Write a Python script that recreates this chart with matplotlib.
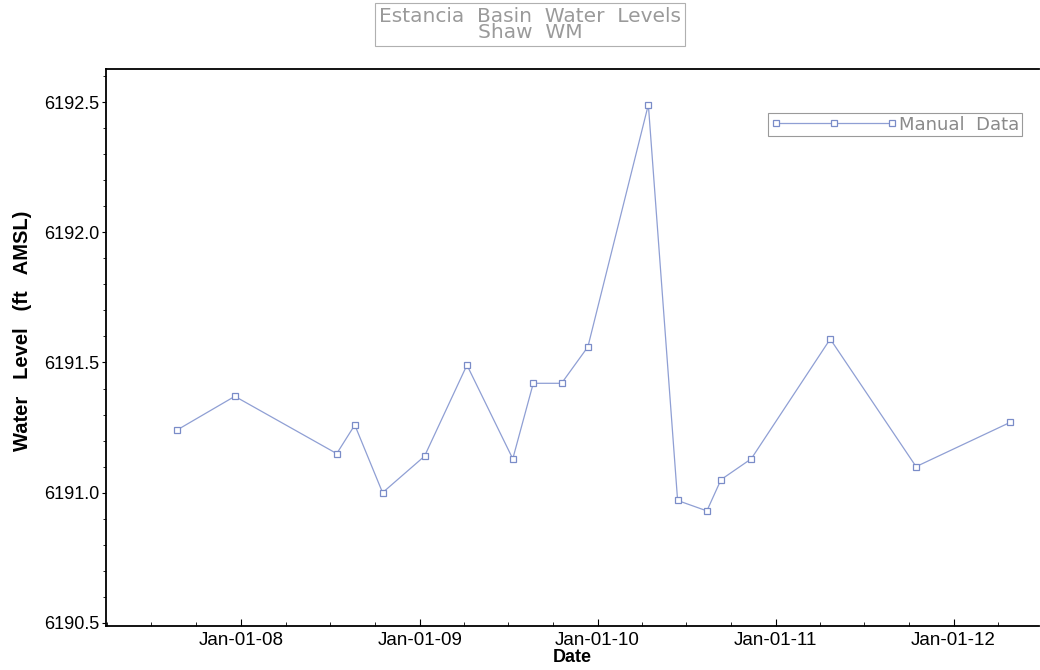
import matplotlib
matplotlib.use("Agg")
import matplotlib.pyplot as plt
import matplotlib.dates as mdates
from matplotlib.ticker import MultipleLocator, FormatStrFormatter
import pandas as pd

plt.rcParams['font.family'] = ['Liberation Sans', 'DejaVu Sans']

# manual water level readings, Shaw WM
dates = ["2007-08-22", "2007-12-19", "2008-07-15", "2008-08-21", "2008-10-17",
         "2009-01-11", "2009-04-08", "2009-07-11", "2009-08-22", "2009-10-19",
         "2009-12-12", "2010-04-15", "2010-06-14", "2010-08-13", "2010-09-11",
         "2010-11-12", "2011-04-23", "2011-10-16", "2012-04-26"]
levels = [6191.24, 6191.37, 6191.15, 6191.26, 6191.00,
          6191.14, 6191.49, 6191.13, 6191.42, 6191.42,
          6191.56, 6192.49, 6190.97, 6190.93, 6191.05,
          6191.13, 6191.59, 6191.10, 6191.27]
tick_dates = ["2008-01-01", "2009-01-01", "2010-01-01", "2011-01-01", "2012-01-01"]

x = pd.to_datetime(dates)

fig = plt.figure(figsize=(10.4, 6.7), dpi=100)
ax = fig.add_axes([0.102, 0.0657, 0.897, 0.8313])

ax.plot(x, levels, color='#8f9fd4', linewidth=0.9, marker='s', markersize=5,
        markerfacecolor='white', markeredgecolor='#7a8cc8', markeredgewidth=0.9,
        label='Manual  Data')

ax.set_xlim(pd.Timestamp("2007-03-30"), pd.Timestamp("2012-06-24"))
ax.set_ylim(6190.488, 6192.627)

ax.set_xticks(pd.to_datetime(tick_dates))
ax.xaxis.set_major_formatter(mdates.DateFormatter('%b-%d-%y'))
ax.xaxis.set_minor_locator(mdates.MonthLocator(bymonth=[1, 4, 7, 10]))
ax.yaxis.set_major_locator(MultipleLocator(0.5))
ax.yaxis.set_minor_locator(MultipleLocator(0.1))
ax.yaxis.set_major_formatter(FormatStrFormatter('%.1f'))

ax.tick_params(axis='x', which='both', direction='in', labelsize=13.5, pad=4)
ax.tick_params(axis='x', which='major', length=5)
ax.tick_params(axis='x', which='minor', length=3)
ax.tick_params(axis='y', which='both', direction='out', labelsize=13, pad=2)
ax.tick_params(axis='y', which='major', length=3)
ax.tick_params(axis='y', which='minor', length=2)

for s in ['left', 'bottom', 'top']:
    ax.spines[s].set_linewidth(1.3)
ax.spines['right'].set_visible(False)

ax.set_xlabel('Date', fontsize=13, fontweight='bold', labelpad=0)
ax.set_ylabel('Water   Level   (ft   AMSL)', fontsize=14.5, fontweight='bold')
ax.yaxis.set_label_coords(-0.079, 0.53)

leg = ax.legend(loc='upper right', bbox_to_anchor=(0.982, 0.921), borderaxespad=0,
                numpoints=3, markerscale=0.8, handlelength=7, handletextpad=0.1,
                prop={'family': 'DejaVu Sans', 'size': 13},
                fancybox=False, framealpha=1, borderpad=0.15)
leg.get_frame().set_edgecolor('#9a9a9a')
leg.get_frame().set_linewidth(0.8)
for t in leg.get_texts():
    t.set_color('#8a8a8a')

fig.text(0.51, 0.963, 'Estancia  Basin  Water  Levels\nShaw  WM', ha='center', va='center',
         fontsize=14.5, family='DejaVu Sans', color='#9a9a9a', linespacing=0.8,
         bbox=dict(boxstyle='square,pad=0.2', facecolor='white', edgecolor='#b0b0b0', linewidth=0.8))

fig.savefig('out.png', dpi=100)
